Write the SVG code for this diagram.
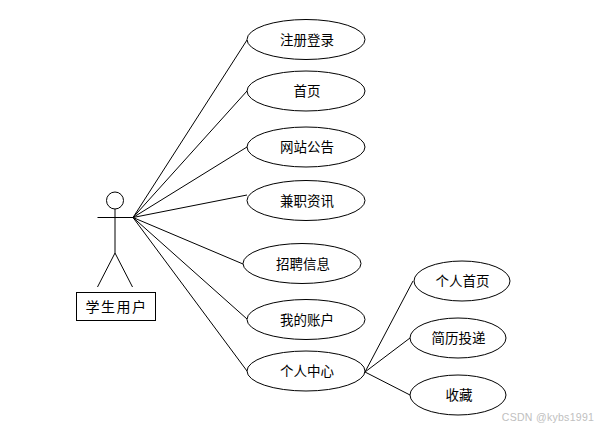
<svg xmlns="http://www.w3.org/2000/svg" width="602" height="429" viewBox="0 0 602 429">
<style>
.s{fill:#fff;stroke:#000;stroke-width:1}
.l{fill:none;stroke:#000;stroke-width:1}
text{font-family:"Noto Sans CJK SC","Liberation Sans",sans-serif;font-size:13.500px;fill:#000;text-anchor:middle;dominant-baseline:central}
</style>
<rect width="602" height="429" fill="#fff"/>
<g id="connectors" class="l">
<path d="M133 217.500L247 40M133 217.500L247 91M133 217.500L247 147M133 217.500L247 195M133 217.500L243 264M133 217.500L247 319M133 217.500L247 371"/>
<path d="M365 372L413 281M365 372L410 338M365 372L410 395"/>
</g>
<g id="actor">
<circle class="s" cx="115" cy="200.500" r="8.500"/>
<path class="l" d="M97.500 217.500H133M115 209V253M115 253L97.500 287M115 253L132.500 287"/>
</g>
<g id="actor-label"><rect class="s" x="76.500" y="292.500" width="79" height="28"/><text x="116.500" y="306" style="font-size:14px;letter-spacing:1.500px">学生用户</text></g>
<g id="n1"><ellipse class="s" cx="306" cy="39.500" rx="59" ry="20"/><text x="307" y="39">注册登录</text></g>
<g id="n2"><ellipse class="s" cx="306" cy="91" rx="59" ry="20"/><text x="307" y="90">首页</text></g>
<g id="n3"><ellipse class="s" cx="306" cy="147" rx="59" ry="20"/><text x="307" y="146">网站公告</text></g>
<g id="n4"><ellipse class="s" cx="306" cy="200.500" rx="59" ry="20"/><text x="307" y="200">兼职资讯</text></g>
<g id="n5"><ellipse class="s" cx="302" cy="263.500" rx="59" ry="20"/><text x="303" y="263">招聘信息</text></g>
<g id="n6"><ellipse class="s" cx="306" cy="319.500" rx="59" ry="20"/><text x="307" y="319">我的账户</text></g>
<g id="n7"><ellipse class="s" cx="306" cy="371" rx="59" ry="20"/><text x="307" y="370">个人中心</text></g>
<g id="n8"><ellipse class="s" cx="462" cy="281" rx="48" ry="20"/><text x="462.500" y="280">个人首页</text></g>
<g id="n9"><ellipse class="s" cx="458" cy="338" rx="48" ry="20"/><text x="458.500" y="337">简历投递</text></g>
<g id="n10"><ellipse class="s" cx="458" cy="395" rx="48" ry="20"/><text x="459" y="394">收藏</text></g>
<text x="548" y="417" style="font-size:10.500px;fill:#c0c0c0;font-family:'Liberation Sans',sans-serif;letter-spacing:.3px">CSDN @kybs1991</text>
</svg>
